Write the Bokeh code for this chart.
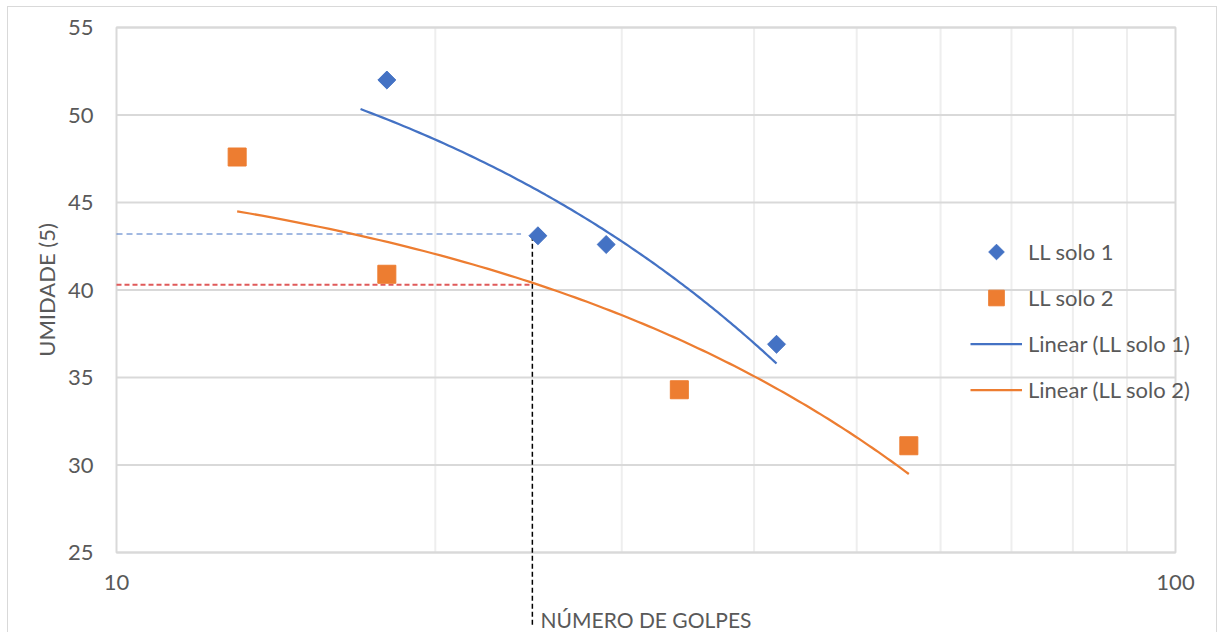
import numpy as np
from bokeh.plotting import figure
from bokeh.models import FixedTicker, Legend, LegendItem, Range1d
from bokeh.embed import file_html
from bokeh.resources import INLINE

# Liquid limit test data (Casagrande): blows vs. moisture content
golpes_solo_1 = [18, 25, 29, 42]
umidade_solo_1 = [52.0, 43.1, 42.6, 36.9]
golpes_solo_2 = [13, 18, 34, 56]
umidade_solo_2 = [47.6, 40.9, 34.3, 31.1]

# x extent of each linear trendline (solo 1 is projected one blow backward)
trend_span_1 = (17, 42)
trend_span_2 = (13, 56)

series_names = ["LL solo 1", "LL solo 2", "Linear (LL solo 1)", "Linear (LL solo 2)"]

x_major_ticks = [10, 100]
x_tick_labels = ["10", "100"]
x_minor_ticks = [20, 30, 40, 50, 60, 70, 80, 90]
y_ticks = [25, 30, 35, 40, 45, 50, 55]

# reading guides at 25 blows
golpes_ref = 24.7
golpes_ref_guide_1 = 24.1
ll_ref_1 = 43.2
ll_ref_2 = 40.3
guide_bottom = 20.7

BLUE = "#4472C4"
ORANGE = "#ED7D31"
TEXT = "#595959"
GRID = "#d9d9d9"
MINOR_GRID = "#eeeeee"
FONT = "Lato"
FS = "22px"

# canvas and plot-area geometry (pixels)
CANVAS_W, CANVAS_H = 1208, 625
AREA_L, AREA_R, AREA_T, AREA_B = 108, 1167, 20, 545

# legend geometry (pixels, legend bottom-left measured from canvas bottom-left)
LEG_X, LEG_Y = 962, 223
GLYPH_W, GLYPH_H, LEG_SPACING = 52, 39, 7
N_ITEMS = len(series_names)

x_lo, x_hi = x_major_ticks[0], x_major_ticks[-1]
y_lo, y_hi = y_ticks[0], y_ticks[-1]
px_per_decade = (AREA_R - AREA_L) / np.log10(x_hi / x_lo)
px_per_unit = (AREA_B - AREA_T) / (y_hi - y_lo)

x_start = x_lo * 10 ** (-AREA_L / px_per_decade)
x_end = x_hi * 10 ** ((CANVAS_W - AREA_R) / px_per_decade)
y_start = y_lo - (CANVAS_H - AREA_B) / px_per_unit
y_end = y_hi + AREA_T / px_per_unit

p = figure(
    x_axis_type="log",
    x_range=Range1d(x_start, x_end),
    y_range=Range1d(y_start, y_end),
    frame_width=CANVAS_W,
    frame_height=CANVAS_H,
    min_border=0,
    output_backend="svg",
    toolbar_location=None,
    background_fill_color="white",
    border_fill_color="white",
)
p.styles = {
    "margin-left": "7px",
    "margin-top": "6px",
    "border-left": "1px solid #d9d9d9",
    "border-top": "1px solid #d9d9d9",
    "border-right": "1px solid #d9d9d9",
}
p.outline_line_color = None
p.xgrid.visible = False
p.ygrid.visible = False

# axes pinned to the plot-area edges
p.xaxis.fixed_location = y_lo
p.yaxis.fixed_location = x_lo
p.xaxis.bounds = (x_lo, x_hi)
p.yaxis.bounds = (y_lo, y_hi)
p.xaxis.ticker = FixedTicker(ticks=x_major_ticks, minor_ticks=[])
p.xaxis.major_label_overrides = {t: s for t, s in zip(x_major_ticks, x_tick_labels)}
p.yaxis.ticker = FixedTicker(ticks=y_ticks, minor_ticks=[])
for ax in (p.xaxis[0], p.yaxis[0]):
    ax.axis_line_color = None
    ax.major_tick_line_color = None
    ax.minor_tick_line_color = None
    ax.major_tick_out = 0
    ax.minor_tick_out = 0
    ax.major_label_text_font = FONT
    ax.major_label_text_font_size = FS
    ax.major_label_text_color = TEXT
    ax.axis_label_text_font = FONT
    ax.axis_label_text_font_size = FS
    ax.axis_label_text_color = TEXT
    ax.axis_label_text_font_style = "normal"

p.xaxis.axis_label = "NÚMERO DE GOLPES"
p.xaxis.axis_label_text_font_size = "21px"
p.yaxis.axis_label = "UMIDADE (5)"
p.xaxis.major_label_standoff = 22
p.xaxis.axis_label_standoff = 14
p.yaxis.major_label_standoff = 23
p.yaxis.axis_label_standoff = 5

# gridlines and plot-area border
p.segment(x0=x_minor_ticks, y0=[y_lo] * len(x_minor_ticks),
          x1=x_minor_ticks, y1=[y_hi] * len(x_minor_ticks),
          line_color=MINOR_GRID, line_width=2)
p.segment(x0=[x_lo] * len(y_ticks), y0=y_ticks, x1=[x_hi] * len(y_ticks), y1=y_ticks,
          line_color=GRID, line_width=2)
p.quad(left=[x_lo], right=[x_hi], bottom=[y_lo], top=[y_hi],
       fill_color=None, line_color=GRID, line_width=2)

# reading guides
p.segment(x0=[x_lo], y0=[ll_ref_1], x1=[golpes_ref_guide_1], y1=[ll_ref_1],
          line_color=BLUE, line_width=1, line_dash="6 4")
p.segment(x0=[x_lo], y0=[ll_ref_2], x1=[golpes_ref], y1=[ll_ref_2],
          line_color="#E05A5A", line_width=2, line_dash="5 3")
p.segment(x0=[golpes_ref], y0=[umidade_solo_1[1]], x1=[golpes_ref], y1=[guide_bottom],
          line_color="black", line_width=1.5, line_dash="5 3")

# linear trendlines (least squares in linear x, drawn on log x)
def trend(xs, ys, span):
    b, a = np.polyfit(xs, ys, 1)
    xx = np.linspace(span[0], span[1], 120)
    return xx, a + b * xx

tx1, ty1 = trend(golpes_solo_1, umidade_solo_1, trend_span_1)
tx2, ty2 = trend(golpes_solo_2, umidade_solo_2, trend_span_2)
l1 = p.line(tx1, ty1, line_color=BLUE, line_width=2.25)
l2 = p.line(tx2, ty2, line_color=ORANGE, line_width=2.25)

s1 = p.scatter(golpes_solo_1, umidade_solo_1, marker="square", angle=np.pi / 4,
               size=12.7, fill_color=BLUE, line_color=BLUE)
s2 = p.scatter(golpes_solo_2, umidade_solo_2, marker="square",
               size=18, fill_color=ORANGE, line_color=ORANGE)

# the legend draws markers unrotated, so the diamond key is placed by hand
# in the first legend slot and the legend entry itself carries no swatch
s1_blank = p.scatter(golpes_solo_1, umidade_solo_1, marker="square",
                     fill_alpha=0, line_alpha=0)
leg_h = N_ITEMS * GLYPH_H + (N_ITEMS - 1) * LEG_SPACING
key_sx = LEG_X + GLYPH_W / 2
key_sy = CANVAS_H - LEG_Y - leg_h + GLYPH_H / 2
key_x = x_start * 10 ** (key_sx / px_per_decade)
key_y = y_end - key_sy / px_per_unit
p.scatter([key_x], [key_y], marker="square", angle=np.pi / 4,
          size=0.4 * GLYPH_H / np.sqrt(2), fill_color=BLUE, line_color=BLUE)

legend = Legend(
    items=[LegendItem(label=series_names[0], renderers=[s1_blank]),
           LegendItem(label=series_names[1], renderers=[s2]),
           LegendItem(label=series_names[2], renderers=[l1]),
           LegendItem(label=series_names[3], renderers=[l2])],
    location=(LEG_X, LEG_Y),
    orientation="vertical",
    glyph_width=GLYPH_W,
    glyph_height=GLYPH_H,
    spacing=LEG_SPACING,
    label_standoff=6,
    label_text_font=FONT,
    label_text_font_size=FS,
    label_text_color=TEXT,
    label_height=22,
    padding=0,
    margin=0,
    background_fill_alpha=0,
    border_line_alpha=0,
)
p.add_layout(legend)

open("out.html", "w").write(file_html(p, INLINE))
